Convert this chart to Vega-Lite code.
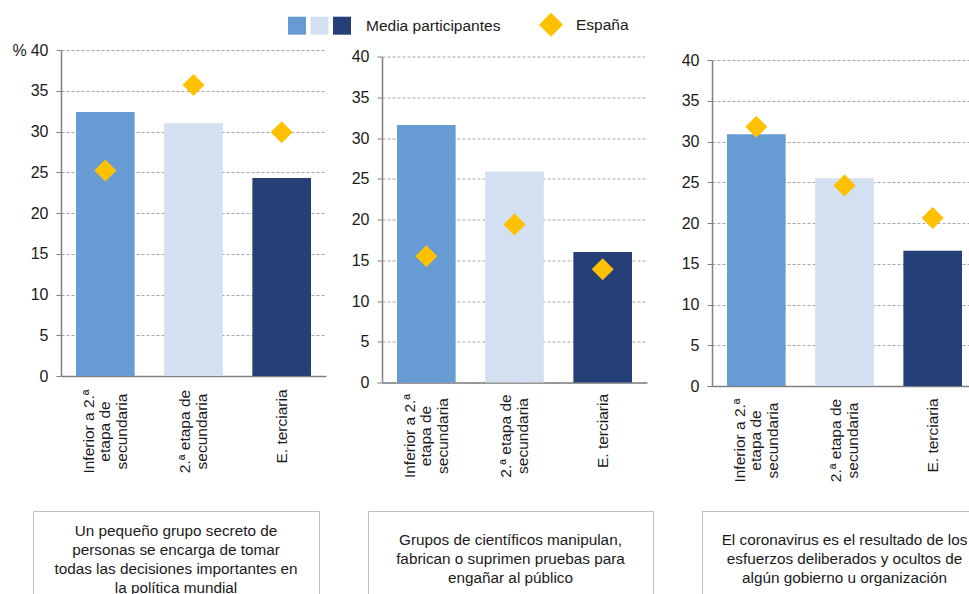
{
  "$schema": "https://vega.github.io/schema/vega-lite/v6.json",
  "background": "white",
  "padding": {"left": 11, "top": 12, "right": 0, "bottom": 0},
  "datasets": {
    "main": [
      {"panel": 1, "nivel": "Inferior a 2.ª|etapa de|secundaria", "media": 32.4, "espana": 25.2, "serie": "España"},
      {"panel": 1, "nivel": "2.ª etapa de|secundaria", "media": 31.0, "espana": 35.7, "serie": "España"},
      {"panel": 1, "nivel": "E. terciaria", "media": 24.3, "espana": 29.9, "serie": "España"},
      {"panel": 2, "nivel": "Inferior a 2.ª|etapa de|secundaria", "media": 31.6, "espana": 15.5, "serie": "España"},
      {"panel": 2, "nivel": "2.ª etapa de|secundaria", "media": 25.9, "espana": 19.4, "serie": "España"},
      {"panel": 2, "nivel": "E. terciaria", "media": 16.0, "espana": 13.9, "serie": "España"},
      {"panel": 3, "nivel": "Inferior a 2.ª|etapa de|secundaria", "media": 30.9, "espana": 31.8, "serie": "España"},
      {"panel": 3, "nivel": "2.ª etapa de|secundaria", "media": 25.5, "espana": 24.6, "serie": "España"},
      {"panel": 3, "nivel": "E. terciaria", "media": 16.6, "espana": 20.6, "serie": "España"}
    ],
    "captions": [
      {"panel": 1, "k": "a", "texto": "Un pequeño grupo secreto de\npersonas se encarga de tomar\ntodas las decisiones importantes en\nla política mundial"},
      {"panel": 2, "k": "a", "texto": "Grupos de científicos manipulan,\nfabrican o suprimen pruebas para\nengañar al público"},
      {"panel": 3, "k": "a", "texto": "El coronavirus es el resultado de los\nesfuerzos deliberados y ocultos de\nalgún gobierno u organización"}
    ],
    "spacer": [{"a": 1}]
  },
  "config": {
    "view": {"stroke": null},
    "font": "Liberation Sans",
    "axis": {"labelFont": "Liberation Sans", "titleFont": "Liberation Sans", "labelColor": "#1a1a1a", "titleColor": "#1a1a1a"},
    "axisX": {"title": null, "domainColor": "#808080", "domainWidth": 1.5, "ticks": false, "grid": false, "labelAngle": -90, "labelAlign": "center", "labelBaseline": "middle", "labelFontSize": 15.5, "labelLineHeight": 16.5, "labelLimit": 0, "labelOverlap": false, "labelBound": false},
    "axisY": {"labelFontSize": 16, "labelPadding": 8, "tickSize": 5, "tickColor": "#808080", "domainColor": "#808080", "domainWidth": 1.5, "grid": true, "gridDash": [3, 2], "gridColor": "#a6a6a6"},
    "legend": {"labelFont": "Liberation Sans", "titleFont": "Liberation Sans"}
  },
  "spacing": 27,
  "vconcat": [
    {
      "spacing": 0,
      "hconcat": [
        {"width": 1, "height": 1, "data": {"name": "spacer"}, "mark": {"type": "point", "opacity": 0, "size": 0}},
        {
          "spacing": 34,
          "hconcat": [
            {
              "spacing": 25,
              "hconcat": [
                {
                  "spacing": 0,
                  "vconcat": [
                    {"width": 1, "height": 1, "data": {"name": "spacer"}, "mark": {"type": "point", "opacity": 0, "size": 0}},
                    {
                      "width": 265, "height": 326,
                      "data": {"name": "main"},
                      "transform": [{"filter": "datum.panel == 1"}],
                      "encoding": {"x": {"field": "nivel", "type": "nominal", "sort": null, "scale": {"paddingInner": 0.335, "paddingOuter": 0.17}, "axis": {"labelPadding": {"condition": {"test": "datum.value == 'E. terciaria'", "value": 50}, "value": 55}, "labelOffset": {"condition": [{"test": "datum.value == 'E. terciaria'", "value": 0}, {"test": "datum.value == '2.ª etapa de|secundaria'", "value": -8.25}], "value": -16.5}, "labelExpr": "split(datum.label, '|')"}}},
                      "layer": [
                        {"mark": {"type": "bar"}, "encoding": {
                          "y": {"field": "media", "type": "quantitative", "scale": {"domain": [0, 40], "nice": false}, "axis": {"title": "%", "titleAngle": 0, "titleAlign": "left", "titleBaseline": "middle", "titleX": -49, "titleY": 0, "titleFontSize": 16, "titleFontWeight": "normal", "values": [0, 5, 10, 15, 20, 25, 30, 35, 40]}},
                          "color": {"field": "nivel", "type": "nominal", "sort": null, "scale": {"domain": ["Inferior a 2.ª|etapa de|secundaria", "2.ª etapa de|secundaria", "E. terciaria"], "range": ["#669BD3", "#D3E0F2", "#244076"]}, "legend": {"orient": "none", "legendX": 277, "legendY": -24.3, "direction": "horizontal", "title": "Media participantes", "titleOrient": "right", "titleFontSize": 15.5, "titleFontWeight": "normal", "titleColor": "#1a1a1a", "titlePadding": 15, "titleBaseline": "middle", "titleAnchor": "middle", "labelExpr": "''", "labelOffset": 0, "columnPadding": 4.5, "symbolType": "square", "symbolSize": 324, "symbolStrokeWidth": 0, "padding": 0}}
                        }},
                        {"mark": {"type": "point", "filled": true, "size": 484, "color": "#FFC000", "opacity": 1}, "encoding": {
                          "y": {"field": "espana", "type": "quantitative", "scale": {"domain": [0, 40], "nice": false}, "axis": {"title": "%", "titleAngle": 0, "titleAlign": "left", "titleBaseline": "middle", "titleX": -49, "titleY": 0, "titleFontSize": 16, "titleFontWeight": "normal", "values": [0, 5, 10, 15, 20, 25, 30, 35, 40]}},
                          "shape": {"field": "serie", "type": "nominal", "scale": {"range": ["diamond"]}, "legend": {"orient": "none", "legendX": 528, "legendY": -28.3, "title": null, "symbolSize": 576, "symbolFillColor": "#FFC000", "symbolStrokeWidth": 0, "labelFontSize": 15.5, "labelOffset": 13, "labelColor": "#1a1a1a", "padding": 0}}
                        }}
                      ]
                    }
                  ]
                },
                {
                  "spacing": 6.5,
                  "vconcat": [
                    {"width": 1, "height": 1, "data": {"name": "spacer"}, "mark": {"type": "point", "opacity": 0, "size": 0}},
                    {
                      "width": 265, "height": 326,
                      "data": {"name": "main"},
                      "transform": [{"filter": "datum.panel == 2"}],
                      "encoding": {"x": {"field": "nivel", "type": "nominal", "sort": null, "scale": {"paddingInner": 0.335, "paddingOuter": 0.17}, "axis": {"labelPadding": {"condition": {"test": "datum.value == 'E. terciaria'", "value": 48}, "value": 53}, "labelOffset": {"condition": [{"test": "datum.value == 'E. terciaria'", "value": 0}, {"test": "datum.value == '2.ª etapa de|secundaria'", "value": -8.25}], "value": -16.5}, "labelExpr": "split(datum.label, '|')"}}},
                      "layer": [
                        {"mark": {"type": "bar"}, "encoding": {
                          "y": {"field": "media", "type": "quantitative", "scale": {"domain": [0, 40], "nice": false}, "axis": {"title": null, "values": [0, 5, 10, 15, 20, 25, 30, 35, 40]}},
                          "color": {"field": "nivel", "type": "nominal", "sort": null, "scale": {"domain": ["Inferior a 2.ª|etapa de|secundaria", "2.ª etapa de|secundaria", "E. terciaria"], "range": ["#669BD3", "#D3E0F2", "#244076"]}, "legend": {"orient": "none", "legendX": 277, "legendY": -24.3, "direction": "horizontal", "title": "Media participantes", "titleOrient": "right", "titleFontSize": 15.5, "titleFontWeight": "normal", "titleColor": "#1a1a1a", "titlePadding": 15, "titleBaseline": "middle", "titleAnchor": "middle", "labelExpr": "''", "labelOffset": 0, "columnPadding": 4.5, "symbolType": "square", "symbolSize": 324, "symbolStrokeWidth": 0, "padding": 0}}
                        }},
                        {"mark": {"type": "point", "filled": true, "size": 484, "color": "#FFC000", "opacity": 1}, "encoding": {
                          "y": {"field": "espana", "type": "quantitative", "scale": {"domain": [0, 40], "nice": false}, "axis": {"title": null, "values": [0, 5, 10, 15, 20, 25, 30, 35, 40]}},
                          "shape": {"field": "serie", "type": "nominal", "scale": {"range": ["diamond"]}, "legend": {"orient": "none", "legendX": 528, "legendY": -28.3, "title": null, "symbolSize": 576, "symbolFillColor": "#FFC000", "symbolStrokeWidth": 0, "labelFontSize": 15.5, "labelOffset": 13, "labelColor": "#1a1a1a", "padding": 0}}
                        }}
                      ]
                    }
                  ]
                }
              ]
            },
            {
              "spacing": 10,
              "vconcat": [
                {"width": 1, "height": 1, "data": {"name": "spacer"}, "mark": {"type": "point", "opacity": 0, "size": 0}},
                {
                  "width": 265, "height": 326,
                  "data": {"name": "main"},
                  "transform": [{"filter": "datum.panel == 3"}],
                  "encoding": {"x": {"field": "nivel", "type": "nominal", "sort": null, "scale": {"paddingInner": 0.335, "paddingOuter": 0.17}, "axis": {"labelPadding": {"condition": {"test": "datum.value == 'E. terciaria'", "value": 49}, "value": 54}, "labelOffset": {"condition": [{"test": "datum.value == 'E. terciaria'", "value": 0}, {"test": "datum.value == '2.ª etapa de|secundaria'", "value": -8.25}], "value": -16.5}, "labelExpr": "split(datum.label, '|')"}}},
                  "layer": [
                    {"mark": {"type": "bar"}, "encoding": {
                      "y": {"field": "media", "type": "quantitative", "scale": {"domain": [0, 40], "nice": false}, "axis": {"title": null, "values": [0, 5, 10, 15, 20, 25, 30, 35, 40]}},
                      "color": {"field": "nivel", "type": "nominal", "sort": null, "scale": {"domain": ["Inferior a 2.ª|etapa de|secundaria", "2.ª etapa de|secundaria", "E. terciaria"], "range": ["#669BD3", "#D3E0F2", "#244076"]}, "legend": {"orient": "none", "legendX": 277, "legendY": -24.3, "direction": "horizontal", "title": "Media participantes", "titleOrient": "right", "titleFontSize": 15.5, "titleFontWeight": "normal", "titleColor": "#1a1a1a", "titlePadding": 15, "titleBaseline": "middle", "titleAnchor": "middle", "labelExpr": "''", "labelOffset": 0, "columnPadding": 4.5, "symbolType": "square", "symbolSize": 324, "symbolStrokeWidth": 0, "padding": 0}}
                    }},
                    {"mark": {"type": "point", "filled": true, "size": 484, "color": "#FFC000", "opacity": 1}, "encoding": {
                      "y": {"field": "espana", "type": "quantitative", "scale": {"domain": [0, 40], "nice": false}, "axis": {"title": null, "values": [0, 5, 10, 15, 20, 25, 30, 35, 40]}},
                      "shape": {"field": "serie", "type": "nominal", "scale": {"range": ["diamond"]}, "legend": {"orient": "none", "legendX": 528, "legendY": -28.3, "title": null, "symbolSize": 576, "symbolFillColor": "#FFC000", "symbolStrokeWidth": 0, "labelFontSize": 15.5, "labelOffset": 13, "labelColor": "#1a1a1a", "padding": 0}}
                    }}
                  ]
                }
              ]
            }
          ]
        }
      ]
    },
    {
      "spacing": 20,
      "hconcat": [
        {"width": 1, "height": 1, "data": {"name": "spacer"}, "mark": {"type": "point", "opacity": 0, "size": 0}},
        {
          "spacing": 47,
          "hconcat": [
            {
              "width": 286, "height": 96,
              "view": {"stroke": "#BFBFBF", "strokeWidth": 1},
              "data": {"name": "captions"},
              "transform": [{"filter": "datum.panel == 1"}],
              "mark": {"type": "text", "lineBreak": "\n", "fontSize": 15.3, "lineHeight": 19, "dy": -28.5, "color": "#1a1a1a", "font": "Liberation Sans"},
              "encoding": {
                "x": {"field": "k", "type": "nominal", "axis": null},
                "y": {"field": "k", "type": "nominal", "axis": null},
                "text": {"field": "texto"}
              }
            },
            {
              "width": 285, "height": 96,
              "view": {"stroke": "#BFBFBF", "strokeWidth": 1},
              "data": {"name": "captions"},
              "transform": [{"filter": "datum.panel == 2"}],
              "mark": {"type": "text", "lineBreak": "\n", "fontSize": 15.3, "lineHeight": 19, "dy": -19, "color": "#1a1a1a", "font": "Liberation Sans"},
              "encoding": {
                "x": {"field": "k", "type": "nominal", "axis": null},
                "y": {"field": "k", "type": "nominal", "axis": null},
                "text": {"field": "texto"}
              }
            },
            {
              "width": 285, "height": 96,
              "view": {"stroke": "#BFBFBF", "strokeWidth": 1},
              "data": {"name": "captions"},
              "transform": [{"filter": "datum.panel == 3"}],
              "mark": {"type": "text", "lineBreak": "\n", "fontSize": 15.3, "lineHeight": 19, "dy": -19, "color": "#1a1a1a", "font": "Liberation Sans"},
              "encoding": {
                "x": {"field": "k", "type": "nominal", "axis": null},
                "y": {"field": "k", "type": "nominal", "axis": null},
                "text": {"field": "texto"}
              }
            }
          ]
        }
      ]
    }
  ]
}
